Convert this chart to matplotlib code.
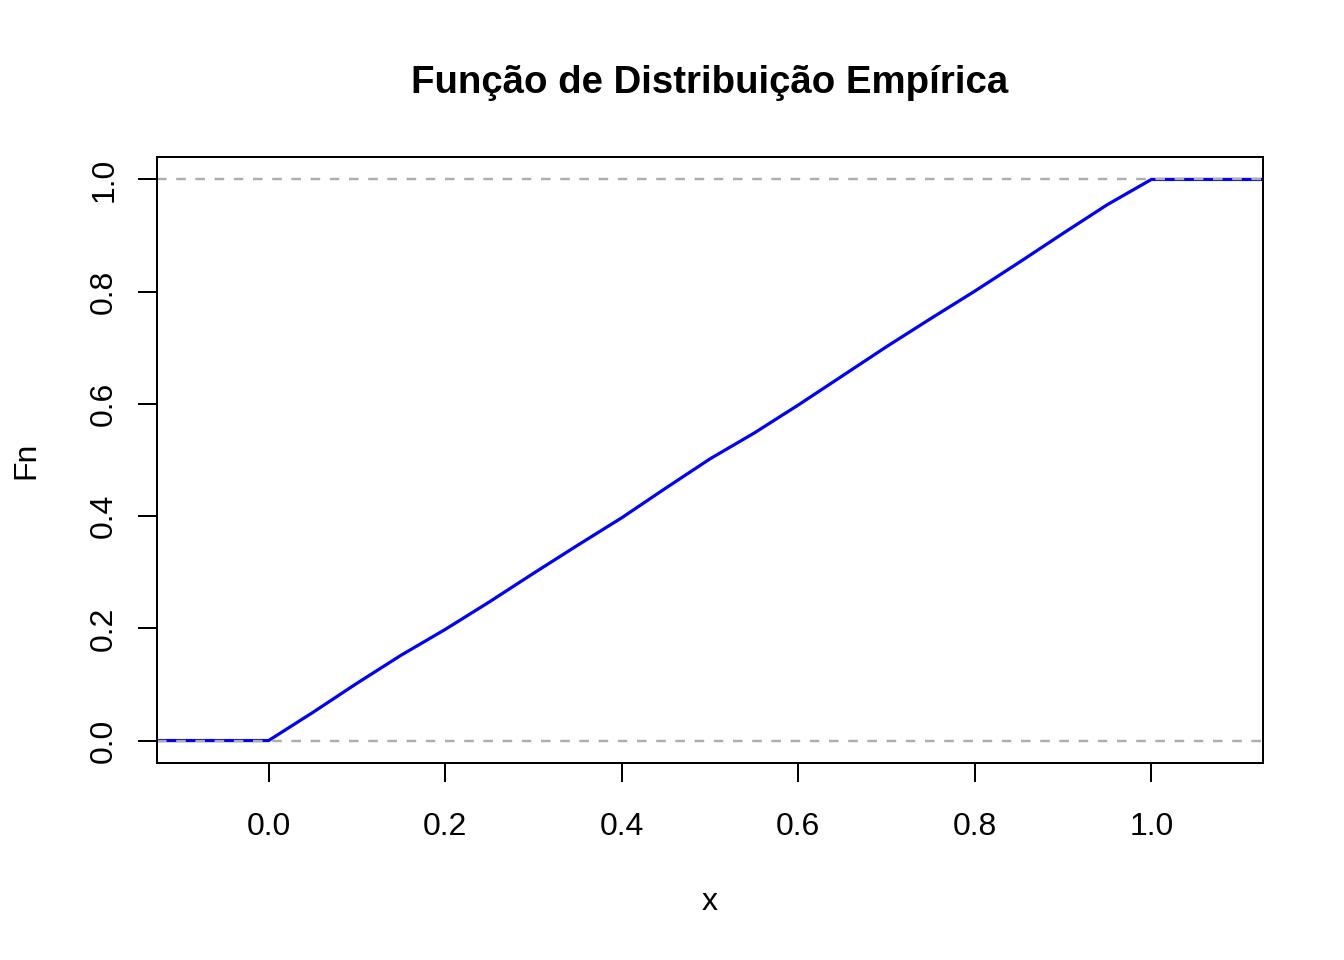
import numpy as np
import matplotlib.pyplot as plt

plt.rcParams['font.family'] = ['Liberation Sans', 'DejaVu Sans']

# ECDF (knots and Fn values)
knots = [0.0, 0.05, 0.10, 0.15, 0.20, 0.25, 0.30, 0.35, 0.40, 0.45, 0.50,
         0.55, 0.60, 0.65, 0.70, 0.75, 0.80, 0.85, 0.90, 0.95, 1.0]
fn = [0.0, 0.050, 0.102, 0.152, 0.198, 0.247, 0.298, 0.348, 0.397, 0.450, 0.502,
      0.548, 0.598, 0.650, 0.702, 0.752, 0.801, 0.852, 0.904, 0.955, 1.0]
xticks = [0.0, 0.2, 0.4, 0.6, 0.8, 1.0]
yticks = [0.0, 0.2, 0.4, 0.6, 0.8, 1.0]

# R style limits: range +- 0.08, then 4% expansion
lo, hi = min(knots) - 0.08, max(knots) + 0.08
ex = 0.04 * (hi - lo)
xlim = (lo - ex, hi + ex)
ylim = (-0.04, 1.04)

fig = plt.figure(figsize=(7, 5), dpi=192)
ax = fig.add_axes([157 / 1344, 1 - 763 / 960, (1263 - 157) / 1344, (763 - 157) / 960])

xs = [xlim[0]] + knots + [xlim[1]]
ys = [fn[0]] + fn + [fn[-1]]
ax.plot(xs, ys, color='blue', lw=1.2)
ax.axhline(0, color='#adadad', lw=0.9, ls=(0, (4, 4)))
ax.axhline(1, color='#adadad', lw=0.9, ls=(0, (4, 4)))

ax.set_xlim(xlim)
ax.set_ylim(ylim)
ax.set_xticks(xticks)
ax.set_xticklabels([f'{v:.1f}' for v in xticks])
ax.set_yticks(yticks)
ax.set_yticklabels([f'{v:.1f}' for v in yticks], rotation=90, va='center')
ax.tick_params(length=7.2, width=0.75, labelsize=12)
ax.tick_params(axis='x', pad=11)
ax.tick_params(axis='y', pad=7)
for s in ax.spines.values():
    s.set_linewidth(0.75)

ax.set_xlabel('x', fontsize=12, labelpad=17)
ax.set_ylabel('Fn', fontsize=12, labelpad=18)
ax.set_title('Função de Distribuição Empírica', fontsize=14.4, fontweight='bold', pad=24)

fig.savefig('out.png', dpi=192)
